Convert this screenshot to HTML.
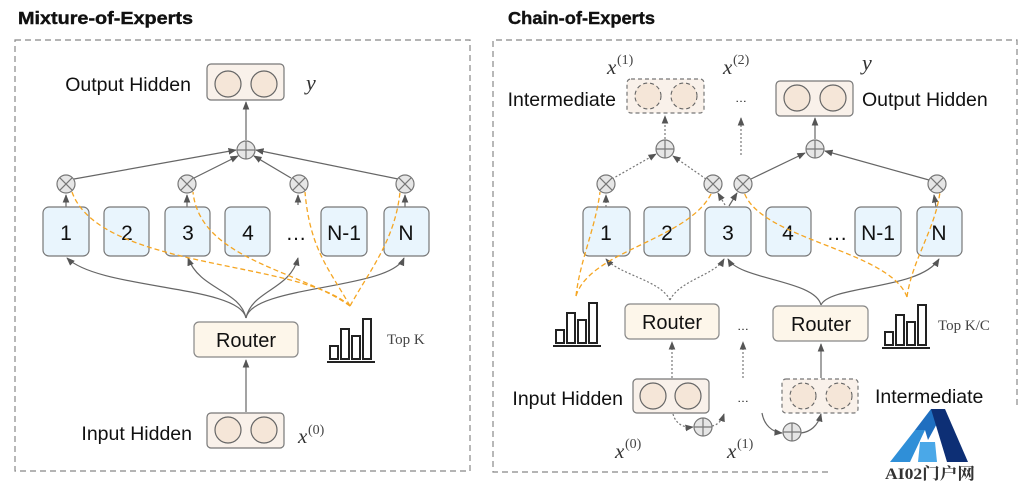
<!DOCTYPE html>
<html><head><meta charset="utf-8"><style>
html,body{margin:0;padding:0;background:#fff;}
svg{display:block;}
text{font-family:"Liberation Sans",Arial,sans-serif;fill:#111;}
.m{font-family:"Liberation Serif",serif;font-style:italic;fill:#333;}
.r{font-family:"Liberation Serif",serif;fill:#444;}
</style></head><body>
<svg width="1029" height="482" viewBox="0 0 1029 482" xmlns="http://www.w3.org/2000/svg">
<defs>
<marker id="a" viewBox="0 0 10 10" refX="9" refY="5" markerWidth="7" markerHeight="7" orient="auto-start-reverse"><path d="M0,1 L10,5 L0,9 z" fill="#555"/></marker>
<g id="plus"><circle r="9" fill="#e6e6e6" stroke="#777" stroke-width="1.2"/><path d="M-9,0H9M0,-9V9" stroke="#777" stroke-width="1.2"/></g>
<g id="mul"><circle r="9" fill="#e6e6e6" stroke="#777" stroke-width="1.2"/><path d="M-6.4,-6.4L6.4,6.4M-6.4,6.4L6.4,-6.4" stroke="#777" stroke-width="1.2"/></g>
<g id="bars" fill="#fff" stroke="#222" stroke-width="2"><rect x="3" y="36" width="8" height="13"/><rect x="14" y="19" width="8" height="30"/><rect x="25" y="26" width="8" height="23"/><rect x="36" y="9" width="8" height="40"/><path d="M0,52H48" fill="none"/></g>
</defs>

<text x="18" y="24" font-size="17.5" font-weight="bold" textLength="175" lengthAdjust="spacingAndGlyphs" stroke="#111" stroke-width="0.4">Mixture-of-Experts</text>
<text x="508" y="24" font-size="17.5" font-weight="bold" textLength="147" lengthAdjust="spacingAndGlyphs" stroke="#111" stroke-width="0.4">Chain-of-Experts</text>

<rect x="15" y="40" width="455" height="431" fill="none" stroke="#888" stroke-width="1.2" stroke-dasharray="6,4"/>
<path d="M828,472 H493 V40 H1017 V406" fill="none" stroke="#888" stroke-width="1.2" stroke-dasharray="6,4"/>

<!-- ===== LEFT ===== -->
<rect x="207" y="64" width="77" height="36" rx="4" fill="#f9f1ea" stroke="#777" stroke-width="1.2"/>
<circle cx="228" cy="84" r="13" fill="#f5e6d8" stroke="#666" stroke-width="1.2"/>
<circle cx="264" cy="84" r="13" fill="#f5e6d8" stroke="#666" stroke-width="1.2"/>
<text x="191" y="91" font-size="19.5" text-anchor="end">Output Hidden</text>
<text x="306" y="90" font-size="22" class="m">y</text>

<line x1="246" y1="140" x2="246" y2="102" stroke="#666" stroke-width="1.2" marker-end="url(#a)"/>
<use href="#plus" x="246" y="150"/>
<g stroke="#666" stroke-width="1.2" fill="none" marker-end="url(#a)">
<line x1="74" y1="179" x2="236" y2="150"/>
<line x1="194" y1="178" x2="238" y2="156"/>
<line x1="291" y1="178" x2="254" y2="156"/>
<line x1="398" y1="179" x2="256" y2="150"/>
<line x1="66" y1="207" x2="66" y2="195"/>
<line x1="187" y1="207" x2="187" y2="195"/>
<line x1="298" y1="205" x2="298" y2="195"/>
<line x1="405" y1="207" x2="405" y2="195"/>
</g>
<use href="#mul" x="66" y="184"/><use href="#mul" x="187" y="184"/><use href="#mul" x="299" y="184"/><use href="#mul" x="405" y="184"/>

<g fill="#e9f5fd" stroke="#777" stroke-width="1.2">
<rect x="43" y="207" width="46" height="49" rx="6"/>
<rect x="104" y="207" width="45" height="49" rx="6"/>
<rect x="165" y="207" width="45" height="49" rx="6"/>
<rect x="225" y="207" width="45" height="49" rx="6"/>
<rect x="321" y="207" width="46" height="49" rx="6"/>
<rect x="384" y="207" width="45" height="49" rx="6"/>
</g>
<g font-size="21" text-anchor="middle">
<text x="66" y="240">1</text><text x="127" y="240">2</text><text x="188" y="240">3</text><text x="248" y="240">4</text>
<text x="296" y="240">…</text><text x="344" y="240">N-1</text><text x="406" y="240">N</text>
</g>

<g stroke="#666" stroke-width="1.2" fill="none" marker-end="url(#a)">
<path d="M246,318 C240,285 100,290 67,258"/>
<path d="M246,318 C240,290 200,290 188,258"/>
<path d="M246,318 C252,290 290,290 298,258"/>
<path d="M246,318 C252,285 390,290 404,258"/>
</g>
<line x1="246" y1="412" x2="246" y2="360" stroke="#666" stroke-width="1.2" marker-end="url(#a)"/>

<g stroke="#f5a623" stroke-width="1.3" fill="none" stroke-dasharray="5,3">
<path d="M350,306 C300,260 100,270 72,192"/>
<path d="M350,306 C300,270 200,260 193,192"/>
<path d="M350,306 C330,270 310,250 305,192"/>
<path d="M350,306 C370,270 395,240 400,192"/>
</g>

<rect x="194" y="322" width="104" height="35" rx="5" fill="#fdf6ea" stroke="#888" stroke-width="1.2"/>
<text x="246" y="347" font-size="20" text-anchor="middle">Router</text>
<use href="#bars" x="327" y="310"/>
<text x="387" y="344" font-size="15" class="r">Top K</text>

<rect x="207" y="413" width="77" height="35" rx="4" fill="#f9f1ea" stroke="#777" stroke-width="1.2"/>
<circle cx="228" cy="430" r="13" fill="#f5e6d8" stroke="#666" stroke-width="1.2"/>
<circle cx="264" cy="430" r="13" fill="#f5e6d8" stroke="#666" stroke-width="1.2"/>
<text x="192" y="440" font-size="19.5" text-anchor="end">Input Hidden</text>
<text x="298" y="443" font-size="21" class="m">x</text><text x="308" y="434" font-size="14" class="r">(0)</text>

<!-- ===== RIGHT ===== -->
<text x="607" y="74" font-size="21" class="m">x</text><text x="617" y="64" font-size="14" class="r">(1)</text>
<text x="723" y="74" font-size="21" class="m">x</text><text x="733" y="64" font-size="14" class="r">(2)</text>
<text x="862" y="70" font-size="22" class="m">y</text>

<rect x="627" y="79" width="77" height="34" rx="4" fill="#f9f1ea" stroke="#777" stroke-width="1.2" stroke-dasharray="4,3"/>
<circle cx="648" cy="96" r="13" fill="#f5e6d8" stroke="#666" stroke-width="1.1" stroke-dasharray="4,3"/>
<circle cx="684" cy="96" r="13" fill="#f5e6d8" stroke="#666" stroke-width="1.1" stroke-dasharray="4,3"/>
<text x="616" y="106" font-size="19.5" text-anchor="end">Intermediate</text>
<text x="741" y="102" font-size="12" text-anchor="middle">…</text>

<rect x="776" y="81" width="77" height="35" rx="4" fill="#f9f1ea" stroke="#777" stroke-width="1.2"/>
<circle cx="797" cy="98" r="13" fill="#f5e6d8" stroke="#666" stroke-width="1.2"/>
<circle cx="833" cy="98" r="13" fill="#f5e6d8" stroke="#666" stroke-width="1.2"/>
<text x="862" y="106" font-size="19.5">Output Hidden</text>

<use href="#plus" x="665" y="149"/><use href="#plus" x="815" y="149"/>
<g stroke="#777" stroke-width="1.2" fill="none" stroke-dasharray="2,2" marker-end="url(#a)">
<line x1="665" y1="139" x2="665" y2="116"/>
<line x1="741" y1="155" x2="741" y2="118"/>
<line x1="612" y1="179" x2="656" y2="154"/>
<line x1="706" y1="179" x2="673" y2="156"/>
<line x1="606" y1="207" x2="606" y2="195"/>
<line x1="725" y1="205" x2="718" y2="193"/>
<path d="M670,300 C660,280 620,275 606,259"/>
<path d="M670,300 C680,280 715,275 724,259"/>
<line x1="672" y1="378" x2="672" y2="342"/>
<line x1="743" y1="378" x2="743" y2="342"/>
<path d="M673,414 C676,425 685,428 693,427"/>
<path d="M712,426 C718,425 722,420 724,414"/>
</g>
<g stroke="#666" stroke-width="1.2" fill="none" marker-end="url(#a)">
<line x1="815" y1="139" x2="815" y2="118"/>
<line x1="751" y1="179" x2="805" y2="153"/>
<line x1="929" y1="180" x2="825" y2="151"/>
<line x1="729" y1="206" x2="737" y2="193"/>
<line x1="936" y1="207" x2="934" y2="195"/>
<path d="M821,305 C815,280 740,280 728,259"/>
<path d="M821,305 C830,285 920,290 939,259"/>
<line x1="821" y1="378" x2="821" y2="344"/>
<path d="M762,413 C764,425 772,432 782,433"/>
<path d="M801,433 C810,432 818,426 821,414"/>
</g>
<use href="#mul" x="606" y="184"/><use href="#mul" x="713" y="184"/><use href="#mul" x="743" y="184"/><use href="#mul" x="937" y="184"/>

<g fill="#e9f5fd" stroke="#777" stroke-width="1.2">
<rect x="583" y="207" width="47" height="49" rx="6"/>
<rect x="644" y="207" width="46" height="49" rx="6"/>
<rect x="705" y="207" width="46" height="49" rx="6"/>
<rect x="766" y="207" width="45" height="49" rx="6"/>
<rect x="855" y="207" width="46" height="49" rx="6"/>
<rect x="917" y="207" width="45" height="49" rx="6"/>
</g>
<g font-size="21" text-anchor="middle">
<text x="606" y="240">1</text><text x="667" y="240">2</text><text x="728" y="240">3</text><text x="788" y="240">4</text>
<text x="837" y="240">…</text><text x="878" y="240">N-1</text><text x="939" y="240">N</text>
</g>

<g stroke="#f5a623" stroke-width="1.3" fill="none" stroke-dasharray="5,3">
<path d="M576,296 C580,260 595,230 600,192"/>
<path d="M576,296 C590,250 690,240 712,192"/>
<path d="M907,297 C890,250 760,240 744,192"/>
<path d="M907,297 C912,260 935,230 940,192"/>
</g>

<rect x="625" y="304" width="94" height="35" rx="5" fill="#fdf6ea" stroke="#888" stroke-width="1.2"/>
<text x="672" y="329" font-size="20" text-anchor="middle">Router</text>
<rect x="773" y="306" width="95" height="35" rx="5" fill="#fdf6ea" stroke="#888" stroke-width="1.2"/>
<text x="821" y="331" font-size="20" text-anchor="middle">Router</text>
<text x="743" y="330" font-size="12" text-anchor="middle">…</text>
<use href="#bars" x="553" y="294"/>
<use href="#bars" x="882" y="296"/>
<text x="938" y="330" font-size="15" class="r">Top K/C</text>

<rect x="633" y="379" width="76" height="34" rx="4" fill="#f9f1ea" stroke="#777" stroke-width="1.2"/>
<circle cx="653" cy="396" r="13" fill="#f5e6d8" stroke="#666" stroke-width="1.2"/>
<circle cx="688" cy="396" r="13" fill="#f5e6d8" stroke="#666" stroke-width="1.2"/>
<text x="623" y="405" font-size="19.5" text-anchor="end">Input Hidden</text>
<text x="743" y="402" font-size="12" text-anchor="middle">…</text>

<rect x="782" y="379" width="76" height="34" rx="4" fill="#f9f1ea" stroke="#777" stroke-width="1.2" stroke-dasharray="4,3"/>
<circle cx="803" cy="396" r="13" fill="#f5e6d8" stroke="#666" stroke-width="1.1" stroke-dasharray="4,3"/>
<circle cx="839" cy="396" r="13" fill="#f5e6d8" stroke="#666" stroke-width="1.1" stroke-dasharray="4,3"/>
<text x="875" y="403" font-size="19.5">Intermediate</text>

<use href="#plus" x="703" y="427"/><use href="#plus" x="792" y="432"/>
<text x="615" y="458" font-size="21" class="m">x</text><text x="625" y="448" font-size="14" class="r">(0)</text>
<text x="727" y="458" font-size="21" class="m">x</text><text x="737" y="448" font-size="14" class="r">(1)</text>

<!-- logo -->
<rect x="860" y="407" width="169" height="75" fill="#fff"/>
<polygon points="890,462 915,430 925,430 910,462" fill="#2f8fd8"/>
<polygon points="915,430 931,409 945,409 928,440 925,430" fill="#1f6fc0"/>
<polygon points="931,409 945,409 968,462 947,462" fill="#0d2f75"/>
<polygon points="920,442 935,442 937,462 918,462" fill="#4aa8e8"/>
<text x="885" y="479" font-size="16" font-weight="bold" style="font-family:'Liberation Serif','Noto Serif CJK SC',serif;fill:#333" textLength="90" lengthAdjust="spacingAndGlyphs">AI02门户网</text>
</svg>
</body></html>
